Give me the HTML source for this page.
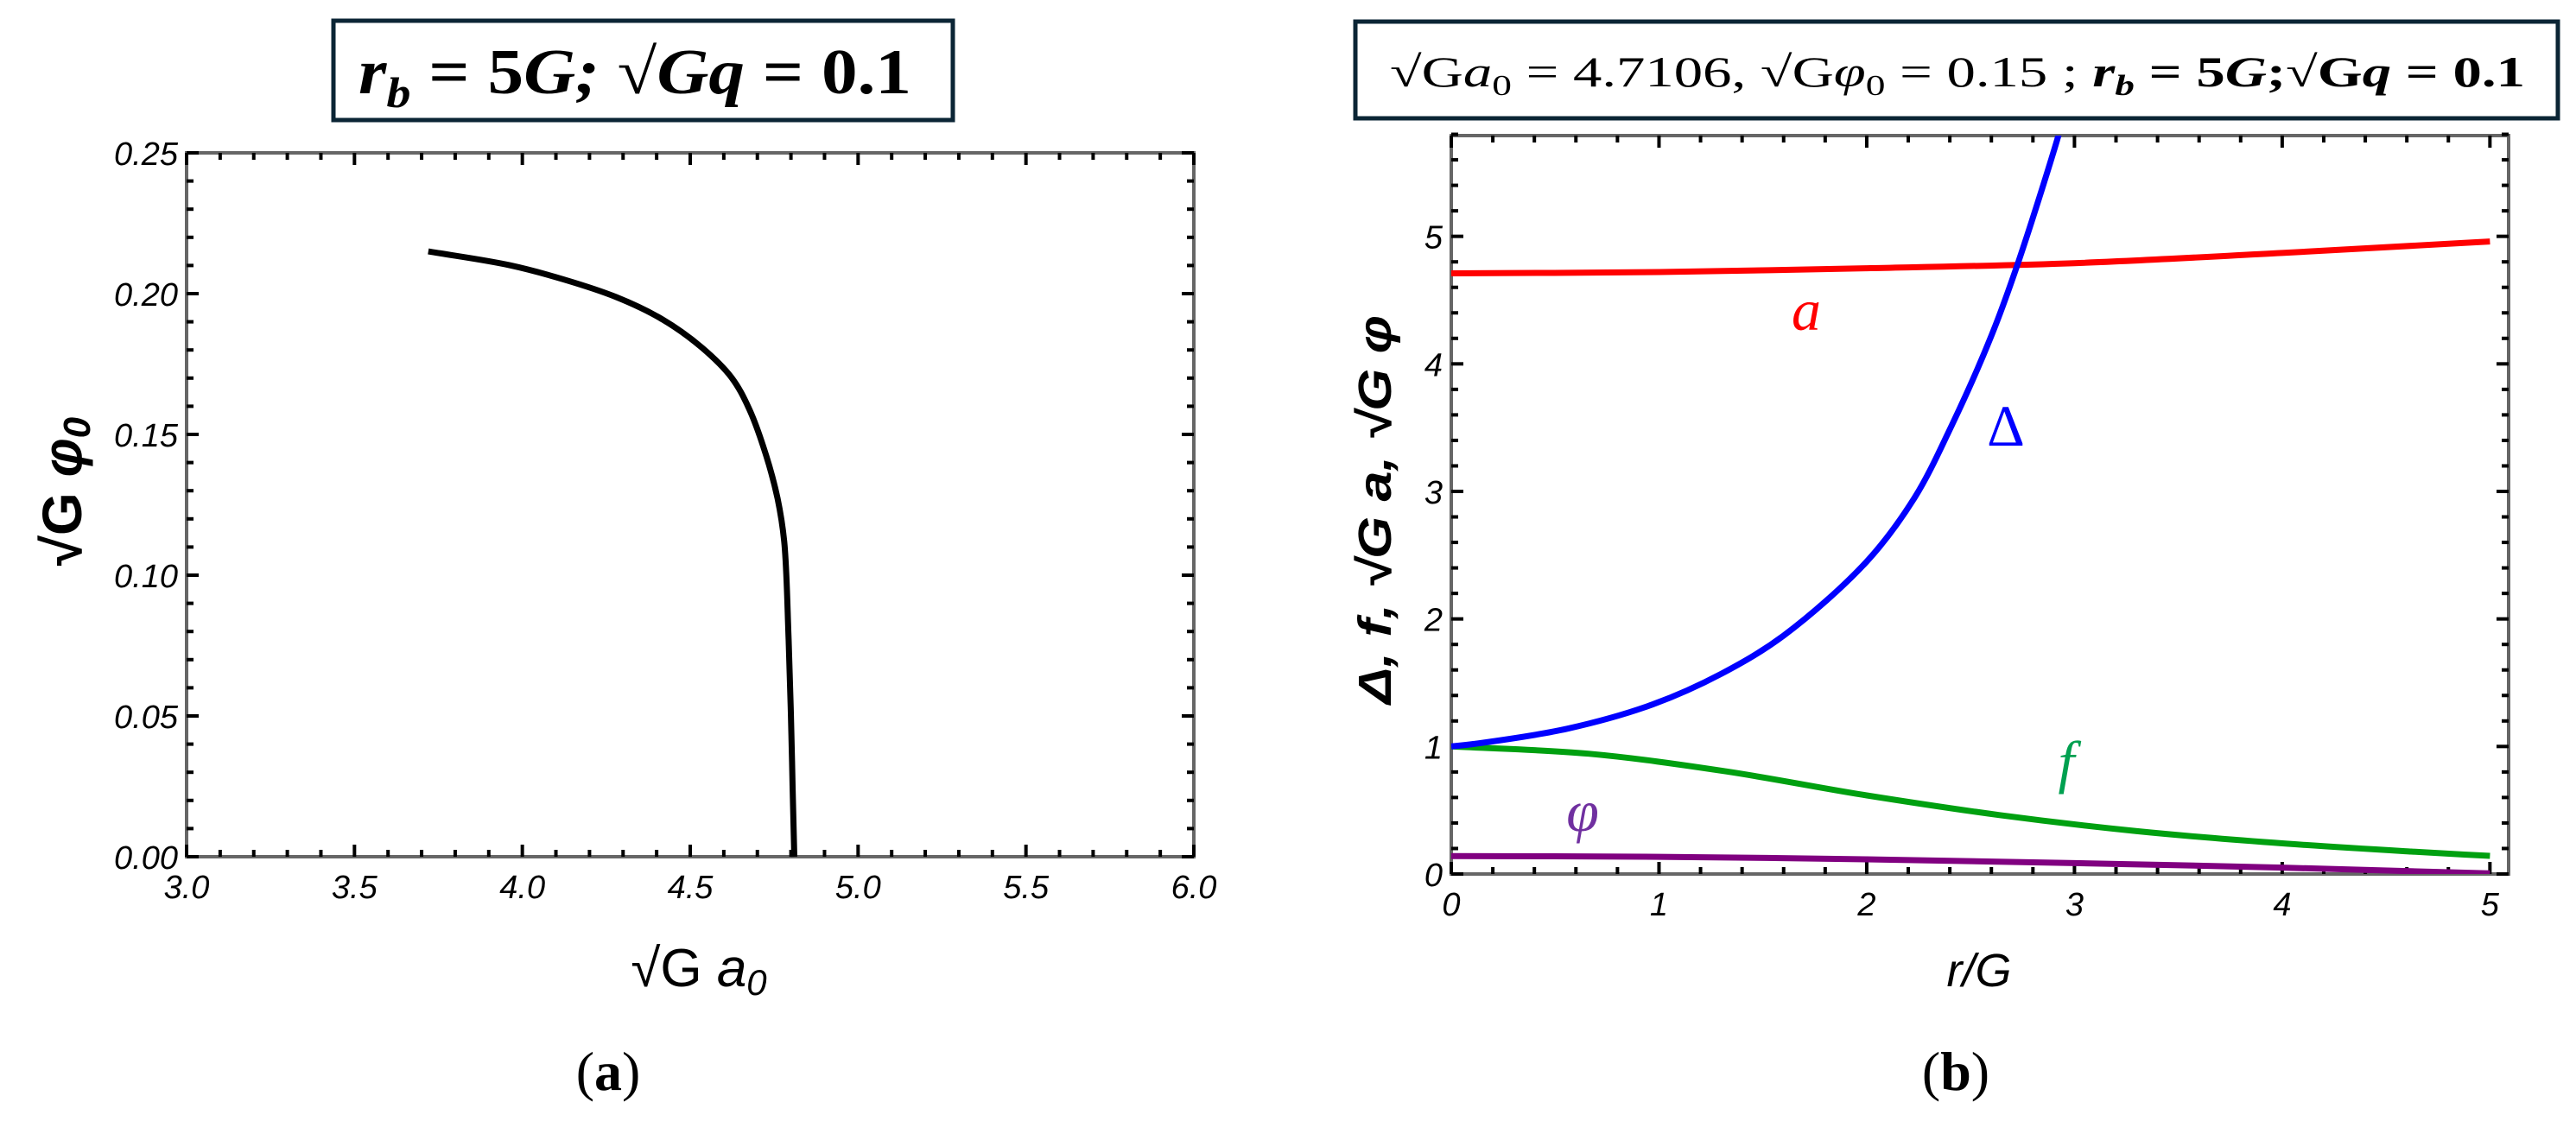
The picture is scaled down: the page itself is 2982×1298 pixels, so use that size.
<!DOCTYPE html>
<html><head><meta charset="utf-8"><style>
html,body{margin:0;padding:0;background:#fff;}
svg{display:block;}
.tk{font-family:"Liberation Sans",sans-serif;font-style:italic;font-size:38px;fill:#000;}
.ttl{font-family:"Liberation Serif",serif;fill:#000;}
</style></head><body>
<svg id="fig" width="2982" height="1298" viewBox="0 0 2982 1298" xmlns="http://www.w3.org/2000/svg">
<g id="pa"></g>
<g id="pb"></g>
<rect x="386" y="24" width="717" height="115" fill="#fff" stroke="#0b2535" stroke-width="5"/>
<text class="ttl" x="735" y="108" text-anchor="middle" font-size="74" font-weight="bold" font-style="italic" textLength="640" lengthAdjust="spacingAndGlyphs">r<tspan font-size="50" dy="16">b</tspan><tspan dy="-16" font-style="normal"> = 5</tspan>G;<tspan font-style="normal">  √</tspan>Gq<tspan font-style="normal"> = 0.1</tspan></text>
<rect x="1569" y="25" width="1392" height="112" fill="#fff" stroke="#0b2535" stroke-width="5"/>
<text class="ttl" x="2266" y="100" text-anchor="middle" font-size="50" textLength="1314" lengthAdjust="spacingAndGlyphs">√G<tspan font-style="italic">a</tspan><tspan font-size="34" dy="10">0</tspan><tspan dy="-10"> = 4.7106, √G</tspan><tspan font-style="italic">φ</tspan><tspan font-size="34" dy="10">0</tspan><tspan dy="-10"> = 0.15 ; </tspan><tspan font-weight="bold" font-style="italic">r</tspan><tspan font-size="34" dy="10" font-weight="bold" font-style="italic">b</tspan><tspan dy="-10" font-weight="bold"> = 5</tspan><tspan font-weight="bold" font-style="italic">G</tspan><tspan font-weight="bold">;√G</tspan><tspan font-weight="bold" font-style="italic">q</tspan><tspan font-weight="bold"> = 0.1</tspan></text>
<text x="809" y="1142" text-anchor="middle" font-family="Liberation Sans,sans-serif" font-size="62">√G <tspan font-style="italic">a</tspan><tspan font-style="italic" font-size="42" dy="10">0</tspan></text>
<text transform="translate(94,569) rotate(-90)" text-anchor="middle" font-family="Liberation Sans,sans-serif" font-size="64" font-weight="bold">√G <tspan font-style="italic">φ</tspan><tspan font-style="italic" font-size="44" dy="10">0</tspan></text>
<text x="2291" y="1142" text-anchor="middle" font-family="Liberation Sans,sans-serif" font-size="54" font-style="italic">r/G</text>
<text transform="translate(1610,590) rotate(-90)" text-anchor="middle" font-family="Liberation Sans,sans-serif" font-size="54" font-weight="bold" font-style="italic" textLength="450" lengthAdjust="spacingAndGlyphs">Δ, f,  √G a, √G φ</text>
<text class="ttl" x="704" y="1262" text-anchor="middle" font-size="64">(<tspan font-weight="bold">a</tspan>)</text>
<text class="ttl" x="2264" y="1262" text-anchor="middle" font-size="64">(<tspan font-weight="bold">b</tspan>)</text>
</svg>
<script>
// Panel (a) data
const aX = [3.720, 3.962, 4.124, 4.279, 4.418, 4.536, 4.623, 4.675, 4.726, 4.760, 4.780, 4.793, 4.800, 4.805, 4.81];
const aY = [0.215, 0.2101, 0.2050, 0.1988, 0.1908, 0.1807, 0.1702, 0.1592, 0.1426, 0.1273, 0.1120, 0.0773, 0.05, 0.025, 0.0];
const aXTicks = ["3.0","3.5","4.0","4.5","5.0","5.5","6.0"];
const aYTicks = ["0.00","0.05","0.10","0.15","0.20","0.25"];
// Panel (b) data
const rVals = [0, 0.11, 0.56, 0.97, 1.30, 1.60, 2.00, 2.23, 2.41, 2.60, 2.73, 2.91, 2.95];
const deltaVals = [1.0, 1.02, 1.14, 1.33, 1.57, 1.87, 2.45, 2.95, 3.52, 4.22, 4.80, 5.72, 5.95];
const rF = [0, 0.66, 1.32, 1.98, 2.64, 3.30, 3.96, 4.62, 5.0];
const fVals = [1.0, 0.943, 0.805, 0.622, 0.462, 0.336, 0.245, 0.176, 0.142];
const rFull = [0, 1, 2, 3, 4, 5];
const aVals = [4.71, 4.72, 4.75, 4.79, 4.87, 4.96];
const phiVals = [0.14, 0.135, 0.115, 0.085, 0.05, 0.005];
const bXTicks = ["0","1","2","3","4","5"];
const bYTicks = ["0","1","2","3","4","5"];

const NS = "http://www.w3.org/2000/svg";
function mk(tag, attrs, parent){const e=document.createElementNS(NS,tag);for(const k in attrs)e.setAttribute(k,attrs[k]);parent.appendChild(e);return e;}

function frame(g, L, T, R, B, xmin, xmax, ymin, ymax, xMinorStep, xMajorStep, yMinorStep, yMajorStep, xLab, yLab, xLabVals, yLabVals){
  const sx = v => L + (v - xmin) / (xmax - xmin) * (R - L);
  const sy = v => B - (v - ymin) / (ymax - ymin) * (B - T);
  const fr = mk('rect',{x:L,y:T,width:R-L,height:B-T,fill:'none',stroke:'#666','stroke-width':4},g);
  
  
  const tg = mk('g',{stroke:'#000','stroke-width':4},g);
  
  
  const nx = Math.round((xmax - xmin) / xMinorStep);
  for(let i=0;i<=nx;i++){
    const v = xmin + i*xMinorStep; const x = sx(v);
    const major = Math.abs(v/xMajorStep - Math.round(v/xMajorStep)) < 1e-6;
    const len = major ? 14 : 8;
    mk('line',{x1:x,y1:B,x2:x,y2:B-len},tg); mk('line',{x1:x,y1:T,x2:x,y2:T+len},tg);
  }
  const ny = Math.round((ymax - ymin) / yMinorStep);
  for(let i=0;i<=ny;i++){
    const v = ymin + i*yMinorStep; const y = sy(v);
    const major = Math.abs(v/yMajorStep - Math.round(v/yMajorStep)) < 1e-6;
    const len = major ? 14 : 8;
    mk('line',{x1:L,y1:y,x2:L+len,y2:y},tg); mk('line',{x1:R,y1:y,x2:R-len,y2:y},tg);
  }
  xLab.forEach((s,i)=>{const t=mk('text',{class:'tk',x:sx(xLabVals[i]),y:B+48,'text-anchor':'middle'},g);t.textContent=s;
    
    });
  yLab.forEach((s,i)=>{const t=mk('text',{class:'tk',x:L-10,y:sy(yLabVals[i])+14,'text-anchor':'end'},g);t.textContent=s;
    
    });
  return {sx, sy};
}
// centripetal Catmull-Rom -> cubic Bezier
function smooth(g, xs, ys, sc, color, w, name){
  const P = xs.map((x,i)=>[sc.sx(x), sc.sy(ys[i])]);
  const dist=(a,b)=>Math.hypot(a[0]-b[0],a[1]-b[1]);
  const A=0.5;
  let d='M'+P[0][0].toFixed(1)+','+P[0][1].toFixed(1);
  for(let i=0;i<P.length-1;i++){
    const p1=P[i],p2=P[i+1];
    const p0=i>0?P[i-1]:[2*p1[0]-p2[0],2*p1[1]-p2[1]];
    const p3=i+2<P.length?P[i+2]:[2*p2[0]-p1[0],2*p2[1]-p1[1]];
    const d1=Math.pow(dist(p0,p1),A)||1e-6, d2=Math.pow(dist(p1,p2),A)||1e-6, d3=Math.pow(dist(p2,p3),A)||1e-6;
    const c1=[0,1].map(k=>(d1*d1*p2[k]-d2*d2*p0[k]+(2*d1*d1+3*d1*d2+d2*d2)*p1[k])/(3*d1*(d1+d2)));
    const c2=[0,1].map(k=>(d3*d3*p1[k]-d2*d2*p3[k]+(2*d3*d3+3*d3*d2+d2*d2)*p2[k])/(3*d3*(d3+d2)));
    d+=` C${c1[0].toFixed(1)},${c1[1].toFixed(1)} ${c2[0].toFixed(1)},${c2[1].toFixed(1)} ${p2[0].toFixed(1)},${p2[1].toFixed(1)}`;
  }
  const p = mk('path',{d:d,fill:'none',stroke:color,'stroke-width':w,'stroke-linejoin':'round'},g);
  
  
}
const ga = document.getElementById('pa');
const sa = frame(ga, 216, 177, 1382, 992, 3, 6, 0, 0.25, 0.1, 0.5, 0.01, 0.05, aXTicks, aYTicks,
  aXTicks.map(Number), aYTicks.map(Number));
smooth(ga, aX, aY, sa, '#000', 7, 'curve-phi0-vs-a0');
const gb = document.getElementById('pb');
const clip = mk('clipPath',{id:'cb'},gb); mk('rect',{x:1680,y:157,width:1224,height:855},clip);
const sb = frame(gb, 1680, 157, 2904, 1012, 0, 5.09, 0, 5.79, 0.2, 1, 0.2, 1, bXTicks, bYTicks,
  bXTicks.map(Number), bYTicks.map(Number));
const gc = mk('g',{'clip-path':'url(#cb)'},gb);
smooth(gc, rFull, phiVals, sb, '#800080', 7, 'line-phi');
smooth(gc, rF, fVals, sb, '#00a010', 7, 'line-f');
smooth(gc, rFull, aVals, sb, '#ff0000', 7, 'line-a');
smooth(gc, rVals, deltaVals, sb, '#0000ff', 7, 'line-delta');
const labs = [['a',2091,382,'#ff0000','label-a'],['Δ',2322,516,'#0000ff','label-delta'],['f',2392,905,'#00a050','label-f'],['φ',1832,962,'#7030a0','label-phi']];
labs.forEach(l=>{const t=mk('text',{x:l[1],y:l[2],'text-anchor':'middle','font-family':'Liberation Serif,serif','font-size':68,'font-style':l[0]==='Δ'?'normal':'italic',fill:l[3]},gb);t.textContent=l[0];
  
  });
</script>
</body></html>
